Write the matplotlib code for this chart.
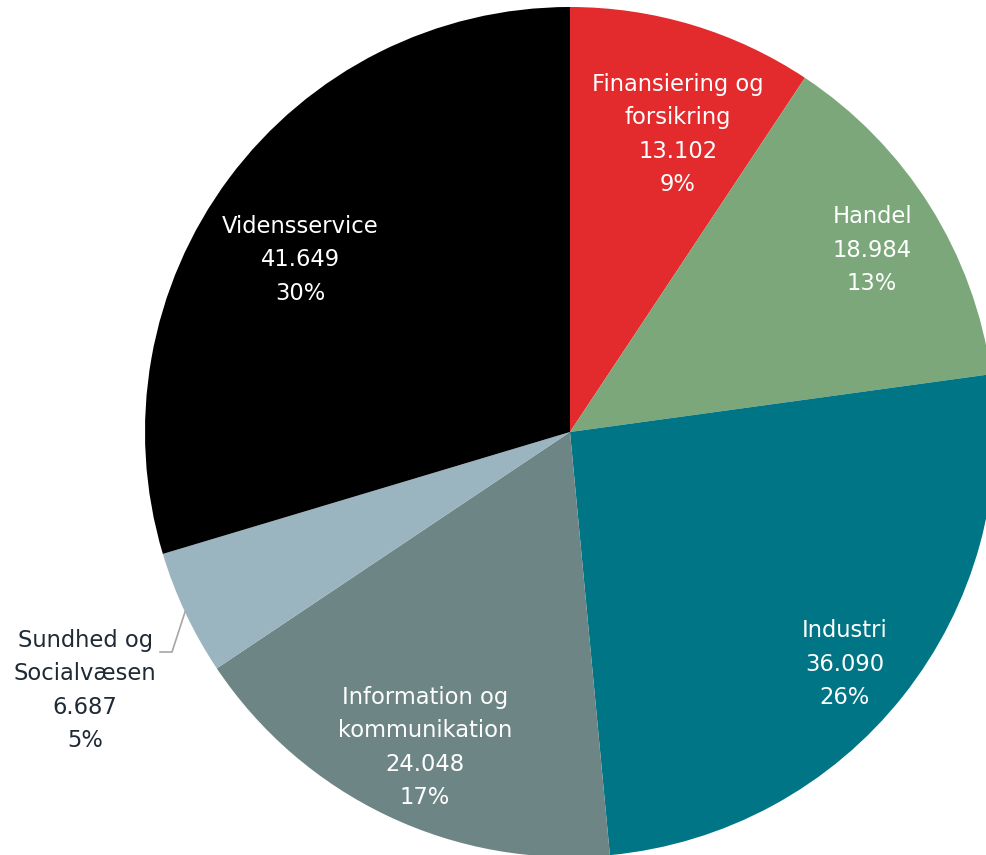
import numpy as np
import matplotlib.pyplot as plt

# Beskæftigede fordelt på branche
brancher = ['Finansiering og\nforsikring', 'Handel', 'Industri',
            'Information og\nkommunikation', 'Sundhed og\nSocialvæsen', 'Vidensservice']
antal = [13102, 18984, 36090, 24048, 6687, 41649]
antal_tekst = ['13.102', '18.984', '36.090', '24.048', '6.687', '41.649']
andel_tekst = ['9%', '13%', '26%', '17%', '5%', '30%']
farver = ['#E32A2D', '#7BA77B', '#007585', '#6E8585', '#9AB4C0', '#000000']
tekstfarver = ['white', 'white', 'white', 'white', '#1F2A35', 'white']

# placering af etiketter relativt til centrum, i enheder af radius
etiket_pos = [(0.254, 0.70), (0.711, 0.428), (0.647, -0.546),
              (-0.341, -0.742), (-1.141, -0.608), (-0.635, 0.405)]

fig = plt.figure(figsize=(9.86, 8.55), dpi=100)
ax = fig.add_axes([0, 0, 1, 1])

cx, cy, R = 570, 855 - 432, 425
ax.pie(antal, colors=farver, startangle=90, counterclock=False,
       center=(cx, cy), radius=R, frame=True)

for navn, nt, pt, (dx, dy), fc in zip(brancher, antal_tekst, andel_tekst, etiket_pos, tekstfarver):
    ax.text(cx + dx * R, cy + dy * R, f'{navn}\n{nt}\n{pt}', color=fc,
            ha='center', va='center', fontsize=16.3, linespacing=1.58,
            family='DejaVu Sans')

# hjælpelinje til Sundhed og Socialvæsen
ax.plot([160, 172, 185], [855 - 652, 855 - 652, 855 - 612], color='#A6A6A6', lw=1.2)

ax.set_xlim(0, 986)
ax.set_ylim(0, 855)
ax.axis('off')
plt.savefig('out.png', dpi=100)
